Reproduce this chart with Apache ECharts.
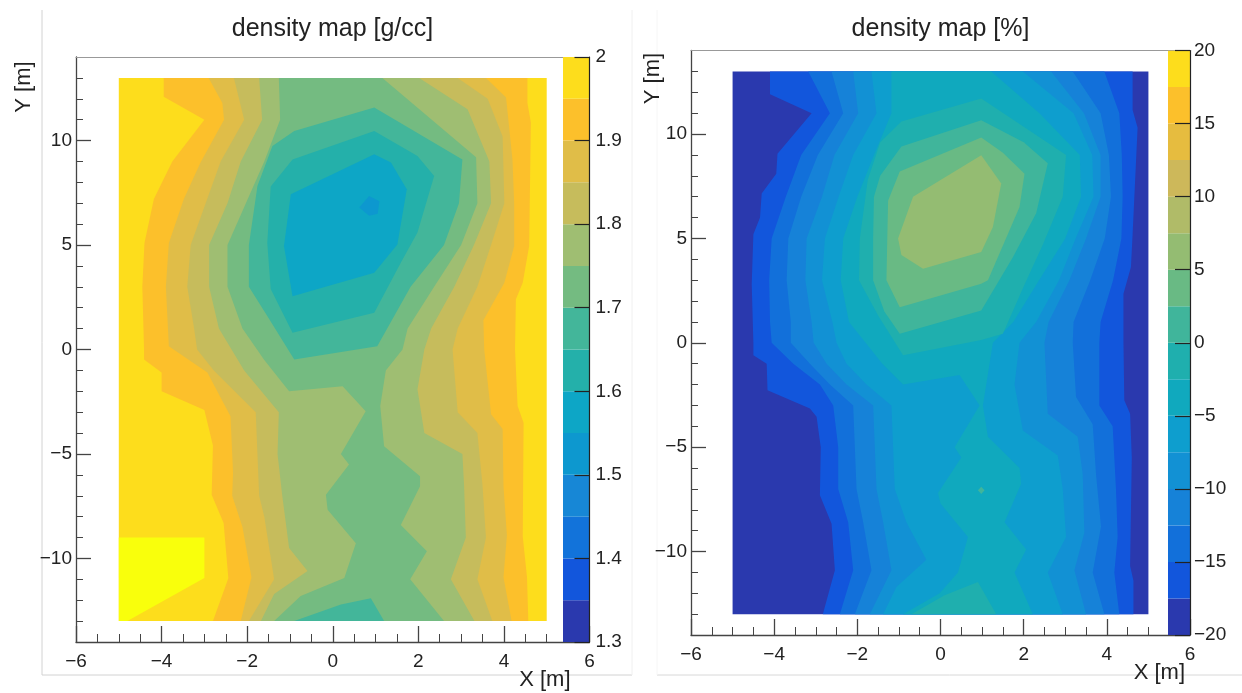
<!DOCTYPE html>
<html><head><meta charset="utf-8">
<style>html,body{margin:0;padding:0;background:#fff}#c{width:1242px;height:693px;filter:blur(0.5px)}</style>
<script src="https://cdn.jsdelivr.net/npm/echarts@6/dist/echarts.min.js"></script>
</head><body><div id="c"></div>
<script>
// ---------- colour scale edges ----------
const gccLevels = [1.3,1.35,1.4,1.45,1.5,1.55,1.6,1.65,1.7,1.75,1.8,1.85,1.9,1.95,2];
const gccColors = ['#2A39AE','#1256DC','#1273DA','#1787D6','#0D98CF','#0DA6C6','#24B0AA','#43B69A','#74BB81','#9FBE72','#C6BC5C','#E0BD48','#FCC02B','#FDDD1C'];
const pctLevels = [-20,-17.5,-15,-12.5,-10,-7.5,-5,-2.5,0,2.5,5,7.5,10,12.5,15,17.5,20];
const pctColors = ['#2A39AE','#1256DC','#1270DA','#1682D8','#1291D4','#0E9ECE','#10A9BE','#1FAFAE','#40B59B','#69BA84','#94BC72','#B0BB68','#CDB85A','#E6BC3F','#FCC02B','#FDDD1C'];
const overflowColor = '#F9FF0C';
const xTicks = [-6,-4,-2,0,2,4,6];
const yMajorTicks = [-10,-5,0,5,10];
const yMinorTicks = [-13,-12,-11,-10,-9,-8,-7,-6,-5,-4,-3,-2,-1,0,1,2,3,4,5,6,7,8,9,10,11,12,13];

// ---------- density map [g/cc]: contour outlines, [x, y] in metres ----------
const gccAll = [[-5,13],[5,13],[5,-13],[-5,-13]];
const gccOver2 = [[-5,-9],[-3,-9],[-3,-10.94],[-4.8,-13],[-5,-13]];
const gccBelow195 = [[-3.95,13],[-3.95,12.1],[-3,11],[-3.75,9],[-4.18,7.2],[-4.4,5.1],[-4.45,3],[-4.41,0],[-4.41,-0.48],[-4,-1.1],[-4,-2],[-3,-2.9],[-2.8,-4.6],[-2.83,-6.95],[-2.55,-8.3],[-2.44,-10.95],[-2.8,-13],[4.57,-13],[4.54,-10.9],[4.44,-8.95],[4.46,-3.5],[4.32,-2.7],[4.26,0],[4.28,2.4],[4.44,3.2],[4.59,4.95],[4.63,10.86],[4.55,11.8],[4.55,13]];
const gccBelow190 = [[-2.9,13],[-2.58,11.8],[-2.54,11],[-3.09,8.95],[-3.48,7.2],[-3.83,5.1],[-3.9,3],[-3.83,0.15],[-2.93,-1.1],[-2.39,-3.2],[-2.33,-5.9],[-2.35,-7],[-2.11,-8.5],[-1.9,-10.9],[-2.15,-13],[4.18,-13],[3.99,-10.9],[4.07,-8.9],[3.99,-6.55],[3.97,-3.8],[3.7,-3.1],[3.54,0],[3.52,1.4],[4.01,3.2],[4.24,4.95],[4.24,7],[4.2,9.1],[4.05,12.06],[3.58,13]];
const gccBelow185 = [[-2.31,13],[-2.07,11],[-2.62,9],[-2.97,7],[-3.32,5],[-3.4,3],[-3.24,1],[-3.17,0],[-2.78,-1],[-1.8,-3],[-1.76,-5],[-1.72,-7],[-1.6,-8],[-1.37,-11],[-1.96,-13],[3.73,-13],[3.38,-11],[3.58,-9],[3.5,-6.5],[3.38,-4],[2.92,-3],[2.84,-1],[2.8,0],[2.92,1],[3.38,3],[3.7,5],[4.01,7],[3.97,10.2],[3.62,12],[2.92,13]];
const gccBelow180 = [[-1.72,13],[-1.65,11],[-2.15,9],[-2.46,7],[-2.89,5],[-2.89,3],[-2.66,1],[-2.07,-1],[-1.26,-3],[-1.29,-5],[-1.18,-7],[-1.02,-9.5],[-0.59,-10.6],[-1.37,-11.7],[-1.68,-13],[3.31,-13],[2.76,-11],[3.11,-9],[3.07,-6.55],[3.03,-5],[2.14,-4],[1.98,-1.9],[2.14,0],[2.3,1],[2.84,3],[3.3,5],[3.7,7],[3.66,9],[3.15,11.5],[2.02,13]];
const gccBelow175 = [[-1.26,13],[-1.23,11],[-1.6,9],[-2.03,7],[-2.46,5],[-2.46,3],[-2.11,1],[-1.6,-0.5],[-1.02,-2],[0.23,-1.76],[0.77,-2.95],[0.19,-5],[0.38,-5.5],[-0.16,-6.95],[-0.12,-7.67],[0.54,-9.27],[0.27,-10.94],[-0.75,-11.8],[-1.37,-13],[2.6,-13],[1.81,-11],[2.2,-9.66],[1.59,-8.4],[2.04,-6.55],[2.04,-6.07],[1.2,-4.63],[1.11,-2.7],[1.24,-1],[1.63,0],[1.75,1],[2.37,3],[3,5],[3.38,7],[3.35,9.2],[1.16,13]];
const gccBelow170 = [[-0.9,10.46],[-1.41,9.74],[-1.76,7.83],[-1.96,5],[-1.96,3],[-1.53,1.6],[-0.9,-0.48],[1.04,0.16],[1.82,3],[2.6,5],[2.95,7],[3.03,9.1],[0.97,11.58]];
const gccBelow170Low = [[-0.9,-13],[0.19,-12.2],[0.89,-11.9],[1.2,-13]];
const gccBelow165 = [[-0.94,9.1],[-1.45,7.8],[-1.53,5.1],[-1.45,2.9],[-0.94,0.8],[0.97,1.76],[1.59,4.15],[1.98,5.6],[2.37,8.3],[1.98,9.26],[0.97,10.46]];
const gccBelow160 = [[-0.98,7.43],[-1.14,4.95],[-0.94,2.55],[0.97,3.67],[1.51,5.03],[1.73,7.67],[1.36,8.95],[0.97,9.35]];
const gccBelow155 = [[0.62,6.8],[0.85,7.35],[1.09,7.1],[1.05,6.5],[0.85,6.4]];

// ---------- density map [%]: contour outlines, [x, y] in metres ----------
const pctAll = [[-5,13],[5,13],[5,-13],[-5,-13]];
const pctAboveM175 = [[-4.1,13],[-4.1,11.9],[-3.1,11],[-3.92,9.05],[-3.95,8.1],[-4.3,7.15],[-4.34,6],[-4.5,5.2],[-4.54,2.8],[-4.5,0],[-4.5,-0.6],[-4.18,-1],[-4.16,-2.27],[-3.14,-3.15],[-2.98,-3.55],[-2.88,-5],[-2.9,-7.3],[-2.62,-8.67],[-2.54,-10.9],[-2.83,-13],[4.64,-13],[4.64,-11.4],[4.56,-10.7],[4.6,-5.5],[4.56,-3.4],[4.42,-2.75],[4.4,0],[4.4,2.35],[4.58,3.63],[4.62,5.2],[4.74,10.3],[4.62,11.15],[4.62,13]];
const pctAboveM150 = [[-3.18,13],[-2.66,11],[-3.35,9],[-3.72,7],[-4.06,5],[-4.12,3],[-4.1,1],[-4.06,0],[-3.54,-1],[-2.9,-2],[-2.58,-3],[-2.46,-5],[-2.46,-7],[-2.22,-8.6],[-2.1,-10.9],[-2.42,-13],[4.3,-13],[4.18,-11],[4.26,-9.3],[4.22,-7],[4.14,-4],[3.82,-3],[3.82,0],[3.85,1],[4.15,3],[4.35,5],[4.38,7],[4.36,9],[4.3,11],[3.94,13]];
const pctAboveM125 = [[-2.62,13],[-2.34,11],[-2.95,9],[-3.35,7],[-3.66,5],[-3.7,3],[-3.6,1],[-3.6,0],[-3.14,-1],[-2.66,-2],[-2.1,-3],[-2.06,-5],[-2.02,-7],[-1.86,-8.6],[-1.66,-10.9],[-2.06,-13],[3.94,-13],[3.66,-11],[3.86,-8.8],[3.74,-6.3],[3.66,-3.9],[3.26,-2.6],[3.18,0],[3.2,1],[3.6,3],[3.95,5],[4.1,7],[4.05,9],[3.85,11],[3.18,13]];
const pctAboveM100 = [[-2.1,13],[-1.98,11],[-2.55,9],[-2.85,7],[-3.22,5],[-3.25,3],[-3.1,1],[-3.05,0],[-2.74,-1],[-2.26,-2],[-1.62,-3],[-1.58,-5],[-1.54,-7],[-1.38,-8.6],[-1.18,-10.9],[-1.7,-13],[3.5,-13],[3.22,-10.9],[3.46,-9.1],[3.42,-6.3],[3.3,-4.5],[2.58,-3.4],[2.5,0],[2.6,1],[3.1,3],[3.5,5],[3.85,7],[3.85,9],[3.45,11],[2.66,13]];
const pctAboveM75 = [[-1.66,13],[-1.54,11],[-2.1,9],[-2.45,7],[-2.78,5],[-2.85,3],[-2.6,1],[-2.5,0],[-2.26,-1],[-1.78,-2],[-1.18,-3],[-1.14,-5],[-1.1,-7],[-0.82,-8.6],[-0.34,-10.4],[-1.06,-11.7],[-1.38,-13],[2.94,-13],[2.58,-11],[3.02,-9.3],[2.94,-7],[2.82,-5.4],[1.98,-4.2],[1.78,-2],[1.9,0],[2.3,1],[2.85,3],[3.25,5],[3.68,7],[3.65,9],[3.2,11],[1.98,13]];
const pctAboveM50 = [[-1.18,13],[-1.18,11],[-1.6,9],[-2,7],[-2.34,5],[-2.4,3],[-2.2,1],[-1.8,0],[-1.4,-1],[-0.9,-2],[0.46,-1.55],[0.94,-3],[0.34,-5],[0.5,-5.5],[-0.06,-7.2],[0,-7.7],[0.66,-9.3],[0.42,-11],[-0.02,-12],[-0.9,-13],[2.22,-13],[1.78,-11],[2.06,-9.9],[1.54,-8.6],[1.94,-6.75],[1.9,-6],[1.14,-4.5],[1.02,-3],[1.14,-1.5],[1.26,0],[1.75,1],[2.37,3],[3,5],[3.38,7],[3.35,9],[2.38,11],[1.22,13]];
const pctAboveM25 = [[-0.94,10.6],[-1.45,9.6],[-1.75,7.8],[-1.94,5],[-1.96,3],[-1.5,1.3],[-0.9,-0.6],[0.98,0.13],[1.5,0.43],[2,2.7],[2.46,4.7],[2.94,7],[3.02,9],[0.98,11.7]];
const pctAboveM25Low = [[-0.7,-13],[0.1,-12.1],[0.9,-11.46],[1.34,-13]];
const pctAboveM25Spot = [[0.9,-7.07],[0.98,-6.9],[1.06,-7.07],[0.98,-7.24]];
const pctAbove0 = [[-0.94,9.4],[-1.45,8],[-1.6,7],[-1.62,5],[-1.62,3],[-1.35,1.5],[-0.98,0.43],[0.98,1.55],[1.74,4.1],[2.3,6.2],[2.58,8.6],[2,9.6],[0.98,10.66]];
const pctAbove25 = [[-0.98,8.2],[-1.26,6.8],[-1.3,3],[-0.98,1.7],[0.98,2.83],[1.14,3],[1.9,6.5],[2.02,8.1],[1.5,9.1],[0.98,9.83]];
const pctAbove50 = [[0.98,8.98],[1.46,7.63],[1.26,5.55],[0.98,4.35],[-0.42,3.55],[-0.94,4.2],[-1.02,5],[-0.66,7]];

// painter's order: [outline, colour index]
const gccMap = [[gccAll,13],[gccBelow195,12],[gccBelow190,11],[gccBelow185,10],[gccBelow180,9],[gccBelow175,8],[gccBelow170,7],[gccBelow170Low,7],[gccBelow165,6],[gccBelow160,5],[gccBelow155,4]].map(d=>({pts:d[0],color:gccColors[d[1]]}));
gccMap.splice(1,0,{pts:gccOver2,color:overflowColor});
const pctMap = [[pctAll,0],[pctAboveM175,1],[pctAboveM150,2],[pctAboveM125,3],[pctAboveM100,4],[pctAboveM75,5],[pctAboveM50,6],[pctAboveM25,7],[pctAboveM25Low,7],[pctAboveM25Spot,8],[pctAbove0,8],[pctAbove25,9],[pctAbove50,10]].map(d=>({pts:d[0],color:pctColors[d[1]]}));

const FONT = '"Liberation Sans", Arial, sans-serif';
const minus = v => String(v).replace('-', '\u2212');

function polygonSeries(polys, xi, yi, z, name){
  return {
    type:'custom', name, xAxisIndex:xi, yAxisIndex:yi, z, silent:true, clip:true, animation:false,
    data: polys.map((p,i)=>[i]),
    encode:{x:[],y:[]},
    renderItem(params, api){
      const p = polys[params.dataIndex];
      return {type:'polygon', shape:{points:p.pts.map(q=>api.coord(q))}, style:{fill:p.color}};
    }
  };
}
function barPolys(levels, colors){
  return colors.map((c,i)=>({pts:[[0,levels[i]],[1,levels[i]],[1,levels[i+1]],[0,levels[i+1]]],color:c}));
}

const labelStyle = {fontFamily:FONT,fontSize:19,color:'#222'};
const options = {
  animation:false, backgroundColor:'#fff',
  title:[
    {text:'density map [g/cc]',left:332.5,top:17,padding:0,textAlign:'center',textStyle:{fontFamily:FONT,fontSize:25,fontWeight:'normal',color:'#222'}},
    {text:'density map [%]',left:940.5,top:17,padding:0,textAlign:'center',textStyle:{fontFamily:FONT,fontSize:25,fontWeight:'normal',color:'#222'}}
  ],
  grid:[], xAxis:[], yAxis:[], series:[],
  graphic:[
    {type:'line',shape:{x1:42,y1:10,x2:42,y2:675},style:{stroke:'#d2d2d2',lineWidth:1},silent:true},
    {type:'line',shape:{x1:42,y1:675,x2:632,y2:675},style:{stroke:'#d2d2d2',lineWidth:1},silent:true},
    {type:'line',shape:{x1:632,y1:10,x2:632,y2:675},style:{stroke:'#f0f0f0',lineWidth:1},silent:true},
    {type:'line',shape:{x1:657,y1:675,x2:1242,y2:675},style:{stroke:'#d8d8d8',lineWidth:1},silent:true},
    {type:'line',shape:{x1:657,y1:10,x2:657,y2:675},style:{stroke:'#f6f6f6',lineWidth:1},silent:true}
  ]
};

function panel(cfg){
  const g = options.grid.length;
  options.grid.push({left:cfg.left,top:cfg.top,width:cfg.width,height:cfg.height,containLabel:false,outerBoundsMode:'none'});
  options.grid.push({left:cfg.barLeft,top:cfg.top,width:cfg.left+cfg.width-cfg.barLeft,height:cfg.height,containLabel:false,outerBoundsMode:'none'});
  const x0 = options.xAxis.length, y0 = options.yAxis.length;
  const line = {onZero:false,lineStyle:{color:'#444',width:1.3}};
  options.xAxis.push(
    {type:'value',gridIndex:g,position:'bottom',min:-6,max:6,interval:2,z:3,
      axisLine:line,
      axisTick:{show:true,inside:true,length:16,lineStyle:{color:'#444',width:1.3},customValues:xTicks},
      minorTick:{show:true,splitNumber:4,length:8,lineStyle:{color:'#444',width:1}},
      axisLabel:{...labelStyle,margin:10,formatter:minus,showMinLabel:true,showMaxLabel:true,customValues:xTicks},
      splitLine:{show:false},
      name:'X [m]',nameLocation:'end',nameGap:cfg.xNameGap,nameMoveOverlap:false,
      nameTextStyle:{fontFamily:FONT,fontSize:22,color:'#222',align:'right',verticalAlign:'top',padding:[27,0,0,0]}},
    {type:'value',gridIndex:g,position:'top',min:-6,max:6,interval:2,z:3,
      axisLine:{onZero:false,lineStyle:{color:'#999',width:1.2}},axisTick:{show:false},axisLabel:{show:false},splitLine:{show:false}},
    {type:'value',gridIndex:g+1,min:0,max:1,show:false}
  );
  options.yAxis.push(
    {type:'value',gridIndex:g,position:'left',min:-14,max:14,z:3,
      axisLine:line,
      axisTick:{show:true,inside:true,length:15,lineStyle:{color:'#444',width:1.3},customValues:yMajorTicks},
      axisLabel:{...labelStyle,margin:4,padding:[3,0,0,0],formatter:minus,customValues:yMajorTicks},
      splitLine:{show:false},
      name:'Y [m]',nameLocation:'end',nameRotate:90,nameGap:cfg.yNameGap,nameMoveOverlap:false,
      nameTextStyle:{fontFamily:FONT,fontSize:22,color:'#222',align:'center',verticalAlign:'bottom',padding:[0,0,cfg.yNamePad,0]}},
    {type:'value',gridIndex:g,position:'left',min:-14,max:14,z:3,
      axisLine:{show:false,onZero:false},
      axisTick:{show:true,inside:true,length:7,lineStyle:{color:'#444',width:1},customValues:yMinorTicks},
      axisLabel:{show:false},splitLine:{show:false}},
    {type:'value',gridIndex:g+1,position:'right',min:cfg.barMin,max:cfg.barMax,interval:cfg.barStep,z:6,
      axisLine:{onZero:false,lineStyle:{color:'#222',width:1.2}},
      axisTick:{show:true,inside:true,length:15,lineStyle:{color:'#222',width:1.2}},
      axisLabel:{...labelStyle,margin:cfg.barMargin,padding:[3,0,0,0],showMinLabel:true,showMaxLabel:true,
        formatter:v=>minus(+v.toFixed(1))},
      splitLine:{show:false}}
  );
  options.series.push(polygonSeries(cfg.map,x0,y0,2,cfg.name));
  options.series.push(polygonSeries(barPolys(cfg.levels,cfg.colors),x0+2,y0+2,5,cfg.name+' colour scale'));
}
panel({name:'density map [g/cc]',left:76,top:57,width:513.5,height:585,barLeft:563,map:gccMap,levels:gccLevels,colors:gccColors,barMin:1.3,barMax:2,barStep:0.1,barMargin:6,xNameGap:-19,yNameGap:-30,yNamePad:41});
panel({name:'density map [%]',left:691,top:50.5,width:499,height:584.5,barLeft:1168,map:pctMap,levels:pctLevels,colors:pctColors,barMin:-20,barMax:20,barStep:5,barMargin:4,xNameGap:-5,yNameGap:-28,yNamePad:27});

const chart = echarts.init(document.getElementById('c'),null,{renderer:'canvas'});
chart.setOption(options);
</script></body></html>
